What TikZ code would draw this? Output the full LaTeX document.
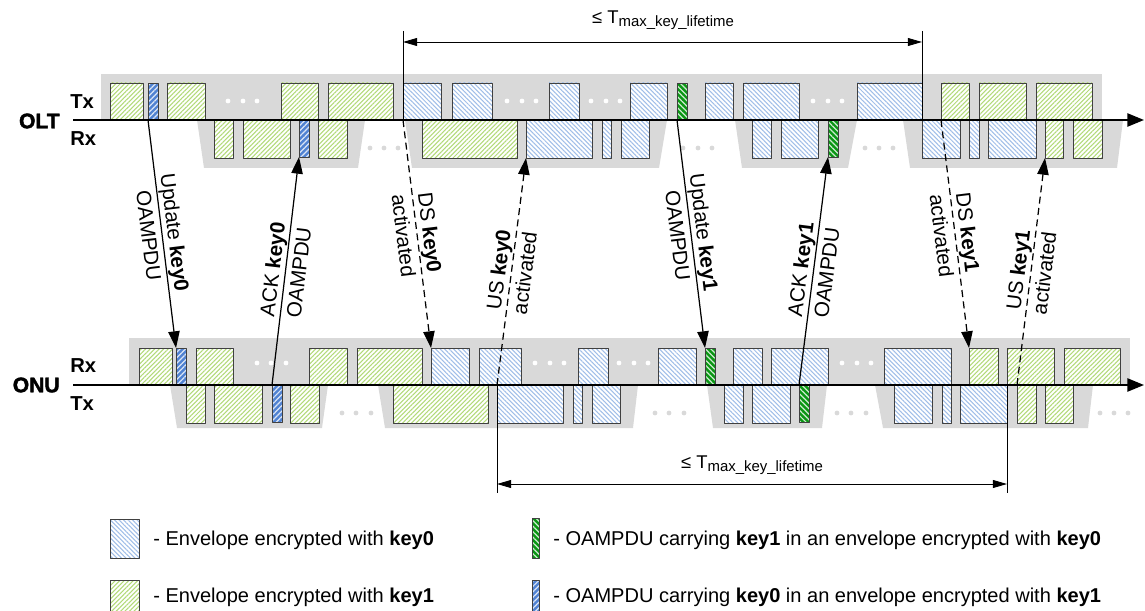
\documentclass[tikz,border=0pt]{standalone}
\usepackage{fontspec}
\setmainfont{Liberation Sans}
\newfontfamily\blackfont[FakeBold=2]{Liberation Sans Bold}
\usetikzlibrary{arrows.meta,patterns.meta}

\begin{document}
\begin{tikzpicture}[x=0.02cm, y=-0.02cm, line join=round,
    envkey0/.style={draw=black!75, line width=0.5pt, preaction={fill=white},
      pattern={Lines[angle=-45,distance=1.8pt,line width=0.6pt]}, pattern color=hatchblue},
    envkey1/.style={draw=black!75, line width=0.5pt, preaction={fill=white},
      pattern={Lines[angle=45,distance=1.8pt,line width=0.6pt]}, pattern color=hatchgreen},
    oamkey0/.style={draw=black!75, line width=0.5pt, preaction={fill=oamblue},
      pattern={Lines[angle=45,distance=2.2pt,line width=0.7pt]}, pattern color=white!80!oamblue},
    oamkey1/.style={draw=black!75, line width=0.5pt, preaction={fill=oamgreen},
      pattern={Lines[angle=-45,distance=2.2pt,line width=0.7pt]}, pattern color=white!80!oamgreen},
    oambox/.style={inner sep=0pt, outer sep=0pt, minimum width=0.2cm, minimum height=0.74cm},
    timeline/.style={line width=1.1pt, -{Triangle[length=9.5pt,width=7.5pt]}},
    msg/.style={line width=0.7pt, -{Triangle[length=9.5pt,width=6.5pt]}},
    activation/.style={msg, dash pattern=on 4pt off 2.5pt},
    msglabel/.style={sloped, align=center, font=\fontsize{11.8}{15}\selectfont},
    dimline/.style={line width=0.5pt, {Triangle[length=8pt,width=4.5pt]}-{Triangle[length=8pt,width=4.5pt]}},
    dimlabel/.style={font=\fontsize{10.5}{12}\selectfont},
    sidelabel/.style={anchor=west, inner sep=0pt, font=\bfseries\fontsize{11.5}{12}\selectfont},
    unitlabel/.style={anchor=east, inner sep=0pt, font=\blackfont\fontsize{12}{13}\selectfont},
    legendtext/.style={anchor=west, inner sep=0pt, font=\fontsize{11.4}{12}\selectfont}
  ]
  \definecolor{bandgray}{RGB}{217,217,217}
  \definecolor{hatchblue}{RGB}{160,190,232}
  \definecolor{hatchgreen}{RGB}{178,218,120}
  \definecolor{oamblue}{RGB}{80,130,210}
  \definecolor{oamgreen}{RGB}{10,150,20}

  \clip (0,0) rectangle (1145,611);

  % grey frames
  \fill[bandgray] (101,74) rectangle (1102,120);
  \fill[bandgray] (129,338) rectangle (1130,385);
  \foreach \a/\b/\c/\d in {197/365/358/204, 405/667/659/412, 735/857/848/742, 903/1123/1117/910}
    \fill[bandgray] (\a,120) -- (\b,120) -- (\c,168) -- (\d,168) -- cycle;
  \foreach \a/\b/\c/\d in {170/328/322/177, 378/638/633/385, 707/827/822/713, 875/1093/1088/883}
    \fill[bandgray] (\a,385) -- (\b,385) -- (\c,428) -- (\d,428) -- cycle;

  % OLT Tx
  \foreach \a/\b in {110/143, 167/205, 281/318, 328/393, 941/969, 979/1026, 1036/1092}
    \draw[envkey1] (\a,83) rectangle (\b,120);
  \foreach \a/\b in {403/441, 452/492, 549/579, 630/667, 705/733, 743/799, 857/922}
    \draw[envkey0] (\a,83) rectangle (\b,120);
  \node[oamkey0, oambox, anchor=south west] (oltupd0) at (148,120) {};
  \node[oamkey1, oambox, anchor=south west] (oltupd1) at (677,120) {};

  % OLT Rx
  \foreach \a/\b in {214/233, 243/290, 318/347, 422/517, 1045/1063, 1073/1102}
    \draw[envkey1] (\a,120) rectangle (\b,158);
  \foreach \a/\b in {526/592, 602/611, 621/649, 752/771, 781/818, 922/960, 969/979, 988/1036}
    \draw[envkey0] (\a,120) rectangle (\b,158);
  \node[oamkey0, oambox, anchor=north west] (oltack0) at (299,120) {};
  \node[oamkey1, oambox, anchor=north west] (oltack1) at (828,120) {};

  % ONU Rx
  \foreach \a/\b in {139/172, 196/233, 309/347, 357/422, 969/998, 1007/1054, 1064/1120}
    \draw[envkey1] (\a,348) rectangle (\b,385);
  \foreach \a/\b in {431/469, 479/521, 578/608, 658/696, 733/762, 771/828, 884/951}
    \draw[envkey0] (\a,348) rectangle (\b,385);
  \node[oamkey0, oambox, anchor=south west] (onuupd0) at (176,385) {};
  \node[oamkey1, oambox, anchor=south west] (onuupd1) at (705,385) {};

  % ONU Tx
  \foreach \a/\b in {186/205, 214/262, 290/319, 393/488, 1017/1036, 1045/1073}
    \draw[envkey1] (\a,385) rectangle (\b,423);
  \foreach \a/\b in {497/563, 573/582, 592/620, 724/743, 752/790, 894/932, 942/951, 960/1007}
    \draw[envkey0] (\a,385) rectangle (\b,423);
  \node[oamkey0, oambox, anchor=north west] (onuack0) at (272,385) {};
  \node[oamkey1, oambox, anchor=north west] (onuack1) at (799,385) {};

  % dots
  \foreach \x in {228,243,257, 507,522,536, 591,606,620, 813,828,842}
    \fill[white] (\x,101) circle (2.4);
  \foreach \x in {370,384,398, 683,698,712, 865,879,893}
    \fill[bandgray] (\x,148) circle (2.4);
  \foreach \x in {257,271,286, 535,550,564, 619,634,648, 842,857,871}
    \fill[white] (\x,363) circle (2.4);
  \foreach \x in {342,356,371, 655,669,684, 837,851,866, 1100,1114,1128}
    \fill[bandgray] (\x,413) circle (2.4);

  % time axes
  \draw[timeline] (73,120) -- (1144,120);
  \draw[timeline] (73,385) -- (1144,385);
  \node[unitlabel] (olt) at (60,121) {OLT};
  \node[unitlabel] (onu) at (60,385) {ONU};
  \node[sidelabel] (olttx) at (70,102) {Tx};
  \node[sidelabel] (oltrx) at (70,139) {Rx};
  \node[sidelabel] (onurx) at (70,366) {Rx};
  \node[sidelabel] (onutx) at (70,404) {Tx};

  % key exchange
  \coordinate (ds0a) at (403,120);
  \coordinate (ds0b) at (431,348);
  \coordinate (us0a) at (497,385);
  \coordinate (us0b) at (526,158);
  \coordinate (ds1a) at (941,120);
  \coordinate (ds1b) at (969,348);
  \coordinate (us1a) at (1017,385);
  \coordinate (us1b) at (1045,158);

  \draw[msg] (oltupd0.south west) -- (onuupd0.north west)
    node[midway, msglabel] {Update \textbf{key0}\\OAMPDU};
  \draw[msg] (onuack0.north west) -- (oltack0.south west)
    node[midway, msglabel] {ACK \textbf{key0}\\OAMPDU};
  \draw[activation] (ds0a) -- (ds0b)
    node[midway, msglabel] {DS \textbf{key0}\\activated};
  \draw[activation] (us0a) -- (us0b)
    node[midway, msglabel] {US \textbf{key0}\\activated};
  \draw[msg] (oltupd1.south west) -- (onuupd1.north west)
    node[midway, msglabel] {Update \textbf{key1}\\OAMPDU};
  \draw[msg] (onuack1.north west) -- (oltack1.south west)
    node[midway, msglabel] {ACK \textbf{key1}\\OAMPDU};
  \draw[activation] (ds1a) -- (ds1b)
    node[midway, msglabel] {DS \textbf{key1}\\activated};
  \draw[activation] (us1a) -- (us1b)
    node[midway, msglabel] {US \textbf{key1}\\activated};

  % key lifetime
  \draw[line width=0.5pt] (403,31) -- (ds0a);
  \draw[line width=0.5pt] (922,31) -- (922,120);
  \coordinate (lifea) at (403,42);
  \coordinate (lifeb) at (922,42);
  \draw[dimline] (lifea) -- (lifeb);
  \node[dimlabel] (lifetop) at (663,20)
    {≤ T\raisebox{-1.5pt}{\fontsize{8.5}{9}\selectfont max\_key\_lifetime}};
  \draw[line width=0.5pt] (us0a) -- (497,493);
  \draw[line width=0.5pt] (1007,385) -- (1007,493);
  \coordinate (lifec) at (497,484);
  \coordinate (lifed) at (1007,484);
  \draw[dimline] (lifec) -- (lifed);
  \node[dimlabel] (lifebot) at (752,465)
    {≤ T\raisebox{-1.5pt}{\fontsize{8.5}{9}\selectfont max\_key\_lifetime}};

  % legend
  \draw[envkey0] (110,519) rectangle (139,558);
  \node[legendtext] (leg0) at (153,540) {- Envelope encrypted with \textbf{key0}};
  \draw[envkey1] (110,580) rectangle (139,619);
  \node[legendtext] (leg1) at (153,597) {- Envelope encrypted with \textbf{key1}};
  \draw[oamkey1] (532,518) rectangle (539,558);
  \node[legendtext] (leg2) at (553,540) {- OAMPDU carrying \textbf{key1} in an envelope encrypted with \textbf{key0}};
  \draw[oamkey0] (532,580) rectangle (539,620);
  \node[legendtext] (leg3) at (553,597) {- OAMPDU carrying \textbf{key0} in an envelope encrypted with \textbf{key1}};
\end{tikzpicture}
\end{document}
